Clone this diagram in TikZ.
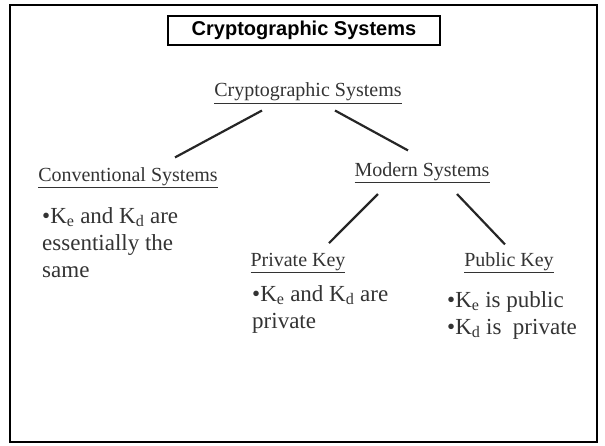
\documentclass[tikz,border=0pt]{standalone}
\usepackage{fontspec}
\setmainfont{Liberation Serif}
\newfontfamily\headfont{Liberation Sans}
\begin{document}
\begin{tikzpicture}[x=1pt,y=-1pt,
  heading/.style={inner sep=0pt, anchor=base, text=black!80, font=\fontsize{20}{24}\selectfont},
  bodytext/.style={inner sep=0pt, anchor=north west, align=left, text=black!80, font=\fontsize{23}{27}\selectfont},
  branch/.style={line width=2.2pt, black!85}]
\useasboundingbox (0,0) rectangle (605,446);
%slide frame
\draw[line width=2pt] (10,5) rectangle (597,442);
%title box
\node[draw, line width=1.5pt, minimum width=272pt, minimum height=29pt, inner sep=0pt,
  font=\headfont\bfseries\fontsize{20}{24}\selectfont] (title) at (304,30.5) {Cryptographic Systems};
%tree headings
\node[heading] (root) at (308,97) {\underline{Cryptographic Systems}};
\node[heading] (conv) at (128,181.5) {\underline{Conventional Systems}};
\node[heading] (modern) at (422,176.5) {\underline{Modern Systems}};
\node[heading] (private) at (298,266.5) {\underline{Private Key}};
\node[heading] (public) at (509,266.5) {\underline{Public Key}};
%branches
\draw[branch] ([xshift=-46pt,yshift=-7pt]root.south) -- ([xshift=47pt,yshift=10pt]conv.north);
\draw[branch] ([xshift=27pt,yshift=-7pt]root.south) -- ([xshift=-14pt,yshift=12pt]modern.north);
\draw[branch] ([xshift=-44pt,yshift=-11pt]modern.south) -- ([xshift=31pt,yshift=10pt]private.north);
\draw[branch] ([xshift=35pt,yshift=-11pt]modern.south) -- ([xshift=-4pt,yshift=8pt]public.north);
%key notes
\node[bodytext] (convnote) at (42,207) {\textbullet K\textsubscript{e} and K\textsubscript{d} are\\ essentially the\\ same};
\node[bodytext] (privnote) at (252,285) {\textbullet K\textsubscript{e} and K\textsubscript{d} are\\ private};
\node[bodytext] (pubnote) at (447,291) {\textbullet K\textsubscript{e} is public\\ \textbullet K\textsubscript{d} is\ \ private};
\end{tikzpicture}
\end{document}
